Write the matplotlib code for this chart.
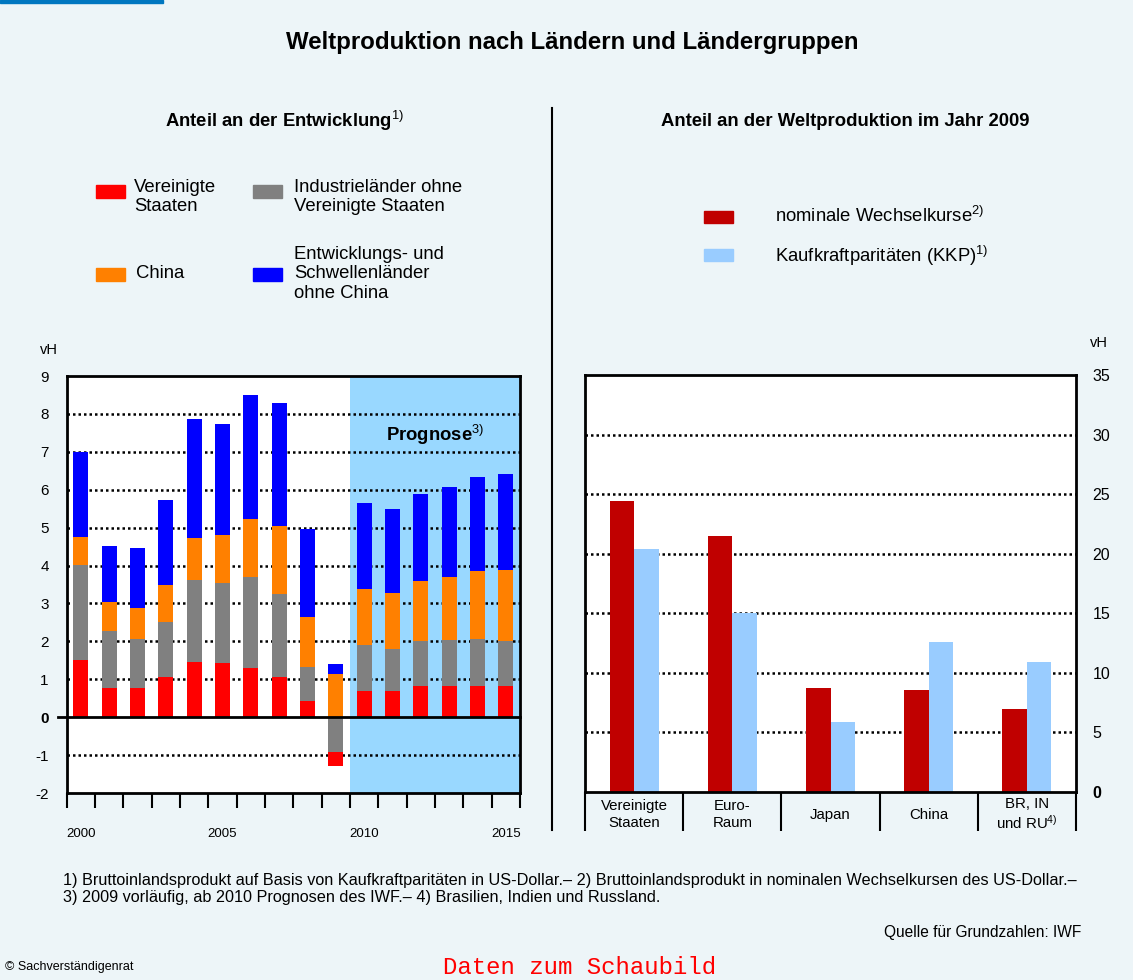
"""
Weltproduktion nach Ländern und Ländergruppen
Two panels: stacked contributions to world growth (left),
share of world production in 2009 (right).
"""

import numpy as np
import matplotlib
matplotlib.use("Agg")
import matplotlib.pyplot as plt
from matplotlib.patches import Rectangle

plt.rcParams["font.family"] = ["Liberation Sans", "DejaVu Sans"]
plt.rcParams["mathtext.fontset"] = "custom"
plt.rcParams["mathtext.rm"] = "Liberation Sans"
plt.rcParams["mathtext.it"] = "Liberation Sans:italic"
plt.rcParams["mathtext.bf"] = "Liberation Sans:bold"

# ── data: left panel (vH) ────────────────────────────────────────────────
years      = list(range(2000, 2016))
usa        = [1.50, 0.78, 0.78, 1.07, 1.46, 1.44, 1.31, 1.07, 0.44, -0.37,
              0.70, 0.70, 0.83, 0.83, 0.83, 0.81]
industrial = [2.52, 1.50, 1.29, 1.45, 2.16, 2.10, 2.39, 2.18, 0.89, -0.93,
              1.21, 1.11, 1.19, 1.21, 1.24, 1.21]
china      = [0.74, 0.77, 0.82, 0.97, 1.11, 1.27, 1.53, 1.79, 1.32, 1.15,
              1.48, 1.47, 1.58, 1.66, 1.79, 1.87]
emerging   = [2.24, 1.47, 1.57, 2.24, 3.13, 2.92, 3.26, 3.24, 2.31, 0.26,
              2.26, 2.21, 2.29, 2.37, 2.47, 2.52]
forecast_from = 2010

# ── data: right panel (vH, 2009) ─────────────────────────────────────────
regions = ["Vereinigte\nStaaten", "Euro-\nRaum", "Japan", "China",
           "BR, IN\nund RU$^{4)}$"]
nominal = [24.4, 21.5, 8.75, 8.6, 7.0]
ppp     = [20.4, 15.05, 5.9, 12.55, 10.95]

# colours
BG        = "#EDF5F8"
C_USA     = "#FF0000"
C_IND     = "#808080"
C_CHINA   = "#FF8000"
C_EM      = "#0000FF"
C_NOMINAL = "#C00000"
C_PPP     = "#99CCFF"
C_PROG    = "#99D8FF"

W, H = 1133, 980
fig = plt.figure(figsize=(W / 100, H / 100), dpi=100, facecolor=BG)


def px_axes(x0, y0, x1, y1):
    """Axes from pixel box (top-left origin)."""
    return fig.add_axes([x0 / W, 1 - y1 / H, (x1 - x0) / W, (y1 - y0) / H])


def fig_text(x, y, s, **kw):
    fig.text(x / W, 1 - y / H, s, **kw)


def fig_patch(x, y, w, h, color):
    fig.patches.append(Rectangle((x / W, 1 - (y + h) / H), w / W, h / H,
                                 transform=fig.transFigure, color=color))


# blue strip top-left + divider
fig_patch(0, 0, 163, 3, "#0077C0")
fig.add_artist(plt.Line2D([552 / W, 552 / W], [1 - 108 / H, 1 - 830 / H],
                          transform=fig.transFigure, color="black", lw=1.5))

# ── titles ───────────────────────────────────────────────────────────────
fig_text(572, 43, "Weltproduktion nach Ländern und Ländergruppen",
         ha="center", va="center", fontsize=17.3, fontweight="bold")
fig_text(285, 121, r"Anteil an der Entwicklung$^{1)}$",
         ha="center", va="center", fontsize=13.3, fontweight="bold")
fig_text(845, 121, "Anteil an der Weltproduktion im Jahr 2009",
         ha="center", va="center", fontsize=13.3, fontweight="bold")

# ── legends (drawn by hand) ──────────────────────────────────────────────
legend_left = [
    (96, 185, C_USA, 134, 197, "Vereinigte\nStaaten"),
    (253, 185, C_IND, 294, 197, "Industrieländer ohne\nVereinigte Staaten"),
    (96, 268, C_CHINA, 136, 274, "China"),
    (253, 268, C_EM, 294, 274, "Entwicklungs- und\nSchwellenländer\nohne China"),
]
for px, py, col, tx, ty, lab in legend_left:
    fig_patch(px, py, 29, 13, col)
    fig_text(tx, ty, lab, ha="left", va="center", fontsize=13.3, linespacing=1.2)

fig_patch(704, 211, 29, 12, C_NOMINAL)
fig_text(775, 216, r"nominale Wechselkurse$^{2)}$", ha="left", va="center", fontsize=13.3)
fig_patch(704, 249, 29, 12, C_PPP)
fig_text(775, 256, r"Kaufkraftparitäten (KKP)$^{1)}$", ha="left", va="center", fontsize=13.3)

fig_text(40, 350, "vH", ha="left", va="center", fontsize=10.5)
fig_text(1090, 343, "vH", ha="left", va="center", fontsize=10.5)

dotted = dict(color="black", lw=1.8, linestyle=(0, (1, 1.2)))

# ── left panel: stacked contributions ───────────────────────────────────
ax1 = px_axes(66.7, 376, 520, 793)
ax1.set_facecolor("white")
x = np.arange(len(years))
series = [(usa, C_USA), (industrial, C_IND), (china, C_CHINA), (emerging, C_EM)]

# positives stack upward in series order, negatives stack downward in reverse order
pos_base = np.zeros(len(years))
neg_base = np.zeros(len(years))
pos_bottoms, neg_bottoms = [], []
for vals, _ in series:
    v = np.array(vals)
    pos_bottoms.append(pos_base.copy())
    pos_base += np.clip(v, 0, None)
for vals, _ in reversed(series):
    v = np.array(vals)
    neg_bottoms.insert(0, neg_base.copy())
    neg_base += np.clip(v, None, 0)

for (vals, col), pb, nb in zip(series, pos_bottoms, neg_bottoms):
    v = np.array(vals)
    bottom = np.where(v >= 0, pb, nb)
    ax1.bar(x, v, bottom=bottom, width=0.53, color=col, zorder=3)

first_fc = years.index(forecast_from)
ax1.axvspan(first_fc - 0.5, len(years) - 0.5, color=C_PROG, zorder=0, lw=0)
ax1.text((first_fc + len(years) - 1) / 2, 7.45, r"Prognose$^{3)}$", ha="center",
         va="center", fontsize=13.3, fontweight="bold", zorder=4)

for yv in range(-1, 9):
    if yv != 0:
        ax1.axhline(yv, zorder=1, **dotted)
ax1.plot([-0.8, len(years) - 0.5], [0, 0], color="black", lw=2, zorder=5,
         clip_on=False)

ax1.set_xlim(-0.5, len(years) - 0.5)
ax1.set_ylim(-2, 9)
ax1.set_yticks(range(-2, 10))
ax1.set_yticklabels([str(v) for v in range(-2, 10)], fontsize=11)
for lab in ax1.get_yticklabels():
    if lab.get_text() == "0":
        lab.set_fontweight("bold")
ax1.tick_params(axis="y", length=0, pad=13)

ax1.set_xticks([i for i, yr in enumerate(years) if yr % 5 == 0])
ax1.set_xticklabels([str(yr) for yr in years if yr % 5 == 0], fontsize=9.5)
ax1.set_xticks(np.arange(-0.5, len(years)), minor=True)
ax1.tick_params(axis="x", which="major", length=0, pad=25)
ax1.tick_params(axis="x", which="minor", length=11, width=1.5, direction="out")
for sp in ax1.spines.values():
    sp.set_linewidth(2)
    sp.set_zorder(6)

# ── right panel: share of world production 2009 ─────────────────────────
ax2 = px_axes(585, 375, 1076, 792)
ax2.set_facecolor("white")
xr = np.arange(len(regions))
ax2.bar(xr - 0.125, nominal, width=0.25, color=C_NOMINAL, zorder=3)
ax2.bar(xr + 0.125, ppp, width=0.25, color=C_PPP, zorder=3)
for yv in range(5, 35, 5):
    ax2.axhline(yv, zorder=1, **dotted)

ax2.set_xlim(-0.5, len(regions) - 0.5)
ax2.set_ylim(0, 35)
ax2.yaxis.tick_right()
ax2.set_yticks(range(0, 40, 5))
ax2.set_yticklabels([str(v) for v in range(0, 40, 5)], fontsize=11.5)
for lab in ax2.get_yticklabels():
    if lab.get_text() == "0":
        lab.set_fontweight("bold")
ax2.tick_params(axis="y", length=0, pad=12)

ax2.set_xticks([])
ax2.set_xticks(np.arange(-0.5, len(regions)), minor=True)
ax2.tick_params(axis="x", which="minor", length=28, width=1.5, direction="out")
for i, lab in enumerate(regions):
    ax2.text(i, -0.054, lab, transform=ax2.get_xaxis_transform(), ha="center",
             va="center", fontsize=10.8, linespacing=1.2)
for sp in ax2.spines.values():
    sp.set_linewidth(2)
    sp.set_zorder(6)

# ── footnotes ────────────────────────────────────────────────────────────
fig_text(63, 880, "1) Bruttoinlandsprodukt auf Basis von Kaufkraftparitäten in US-Dollar.– "
         "2) Bruttoinlandsprodukt in nominalen Wechselkursen des US-Dollar.–",
         ha="left", va="center", fontsize=11.7)
fig_text(63, 897, "3) 2009 vorläufig, ab 2010 Prognosen des IWF.– 4) Brasilien, Indien und Russland.",
         ha="left", va="center", fontsize=11.7)
fig_text(1081, 932, "Quelle für Grundzahlen: IWF", ha="right", va="center", fontsize=11.2)
fig_text(5, 967, "© Sachverständigenrat", ha="left", va="center", fontsize=9)
fig_text(443, 967, "Daten zum Schaubild", ha="left", va="center", fontsize=17.3,
         family="Liberation Mono", color="#FF0000")

fig.savefig("out.png", dpi=100, facecolor=BG)
